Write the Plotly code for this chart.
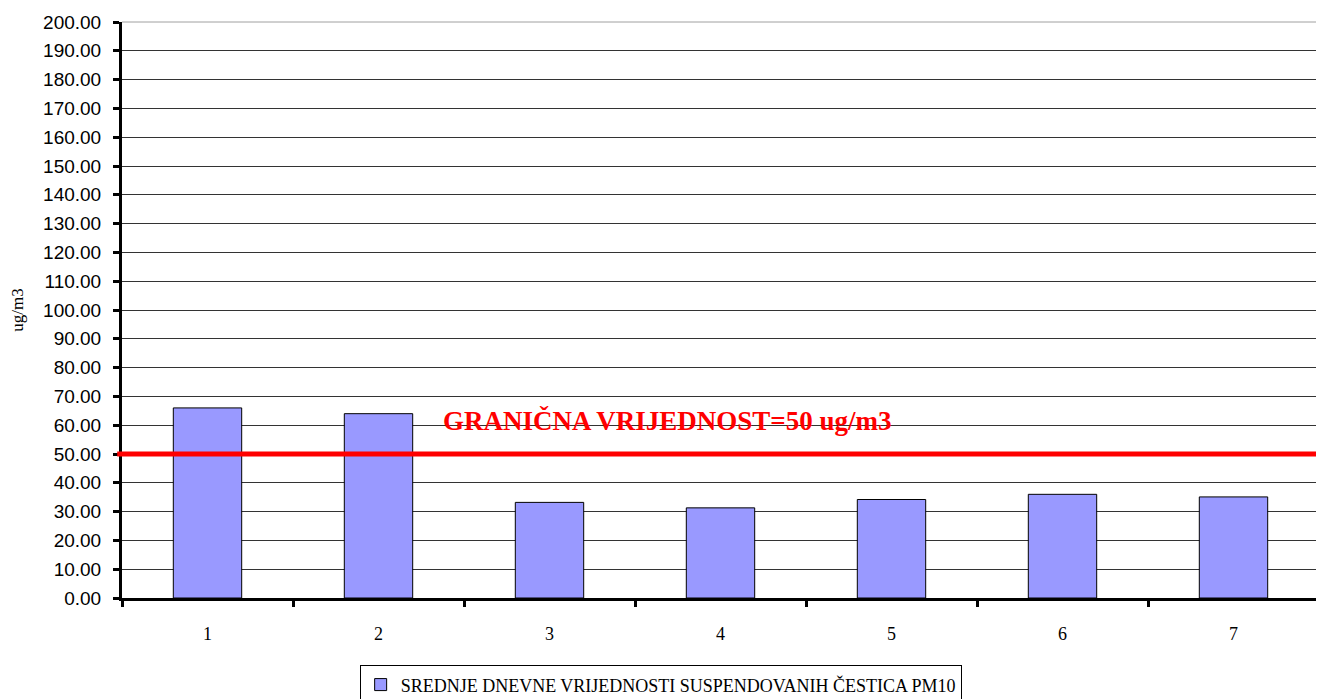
import plotly.graph_objects as go

categories = ["1", "2", "3", "4", "5", "6", "7"]
values = [66.0, 64.0, 33.2, 31.3, 34.2, 36.0, 35.1]
series_name = "SREDNJE DNEVNE VRIJEDNOSTI SUSPENDOVANIH ČESTICA PM10"
limit_value = 50
limit_label = "GRANIČNA VRIJEDNOST=50 ug/m3"
y_ticks = [i * 10 for i in range(21)]
y_tick_text = [f"{v:.2f}" for v in y_ticks]

fig = go.Figure()
fig.add_trace(go.Bar(
    x=categories, y=values, name=series_name,
    marker=dict(color="#9999FF", line=dict(color="#000000", width=1)),
    width=0.4,
))

# white patch hiding gridline behind label
fig.add_shape(type="rect", xref="paper", yref="y", x0=0.245, x1=0.674,
              y0=57.5, y1=62.5, fillcolor="white", line=dict(width=0), layer="between")
# limit line
fig.add_shape(type="line", xref="paper", yref="y", x0=-0.004, x1=1.0,
              y0=limit_value, y1=limit_value,
              line=dict(color="#FF0000", width=5), layer="above")
fig.add_annotation(xref="paper", yref="y", x=0.455, y=61.5, text=f"<b>{limit_label}</b>",
                   showarrow=False, font=dict(family="Liberation Serif", size=27, color="#FF0000"))

fig.update_layout(
    width=1316, height=691,
    margin=dict(l=114, r=5, t=14, b=101, autoexpand=False),
    plot_bgcolor="white", paper_bgcolor="white",
    font=dict(family="Liberation Serif", color="#000000"),
    showlegend=True,
    legend=dict(orientation="h", x=0.45, xanchor="center", y=-0.117, yanchor="top",
                bordercolor="#000000", borderwidth=1,
                font=dict(family="Liberation Serif", size=18, color="#000000")),
    bargap=0.6,
)
fig.update_xaxes(
    type="category", showline=True, linecolor="#000000", linewidth=3,
    ticks="outside", tickson="boundaries", ticklen=6, tickwidth=3, tickcolor="#000000",
    tickfont=dict(family="Liberation Serif", size=18, color="#000000"),
    ticklabelstandoff=17,
    showgrid=False, mirror=False, fixedrange=True, automargin=False,
)
fig.update_yaxes(
    range=[0, 200], tickvals=y_ticks, ticktext=y_tick_text,
    showline=True, linecolor="#000000", linewidth=3,
    ticks="outside", ticklen=6, tickwidth=3, tickcolor="#000000",
    ticklabelstandoff=8,
    showgrid=True, gridcolor="#333333", gridwidth=1,
    tickfont=dict(family="Liberation Sans", size=19, color="#000000"),
    title=dict(text="ug/m3", font=dict(family="Liberation Serif", size=17, color="#000000"), standoff=18),
    zeroline=False, automargin=False,
)
# right gray border
fig.add_shape(type="line", xref="paper", yref="paper", x0=1, x1=1, y0=0, y1=1,
              line=dict(color="#A0A0A0", width=2))
fig.add_shape(type="line", xref="paper", yref="paper", x0=0, x1=1, y0=1, y1=1,
              line=dict(color="#A0A0A0", width=1))

fig.write_html("out.html")
